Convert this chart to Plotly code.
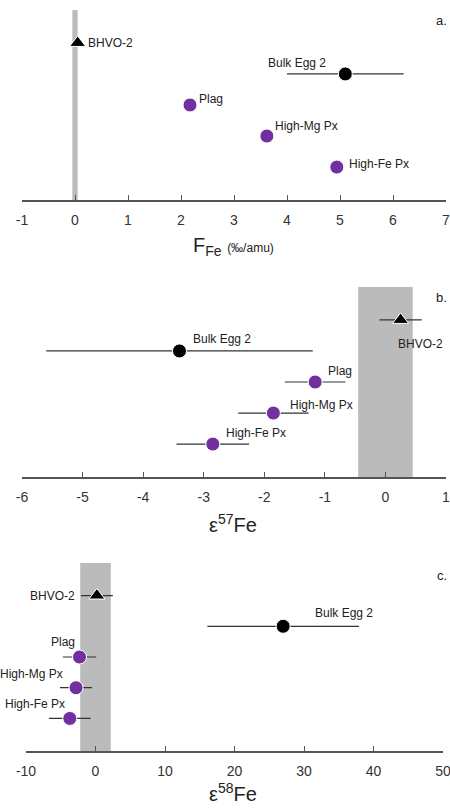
import plotly.graph_objects as go

# ---- data ----
samples = ["BHVO-2", "Bulk Egg 2", "Plag", "High-Mg Px", "High-Fe Px"]
F_Fe = [0.05, 5.1, 2.17, 3.62, 4.94]
F_Fe_err = [0, 1.1, 0, 0, 0]
eps57 = [0.25, -3.4, -1.16, -1.85, -2.85]
eps57_err = [0.35, 2.2, 0.5, 0.58, 0.6]
eps58 = [0.2, 27.0, -2.3, -2.8, -3.7]
eps58_err = [2.3, 10.9, 2.4, 2.3, 3.0]
band_half = [0.05, 0.45, 2.2]   # BHVO-2 reproducibility bands (F, e57, e58)
x_ranges = [[-1, 7], [-6, 1], [-10, 50]]
x_ticks = [list(range(-1, 8)), list(range(-6, 2)), list(range(-10, 51, 10))]
panel_letters = ["a.", "b.", "c."]
x_titles = ["F<sub>Fe</sub> <span style='font-size:12px'>(‰/amu)</span>",
            "ε<sup>57</sup>Fe", "ε<sup>58</sup>Fe"]

# ---- styles ----
PURPLE = "#7030A0"
colors = ["black", "black", PURPLE, PURPLE, PURPLE]
symbols = ["triangle-up", "circle", "circle", "circle", "circle"]
FONT = "Liberation Sans, Arial, sans-serif"
AX = "#555555"

# label placement per panel: (xanchor, xshift, yshift)
label_pos = [
    [("left", 8, 0), ("right", -17, 11), ("left", 7, 6), ("left", 6, 10), ("left", 10, 3)],
    [("center", 20, -24), ("left", 12, 12), ("left", 11, 11), ("left", 15, 8), ("left", 11, 11)],
    [("right", -20, 0), ("left", 30, 13), ("right", -3, 15), ("right", -11, 14), ("right", -3, 14)],
]

W, H = 450, 810
x_domains = [[22 / W, 446 / W], [22 / W, 446 / W], [26 / W, 443 / W]]
px_tops = [10, 287, 563]
px_bots = [200, 477, 751]
y_domains = [[1 - b / H, 1 - t / H] for t, b in zip(px_tops, px_bots)]
title_px = [247, 523, 792]
letter_px = [21, 297, 575]

fig = go.Figure()
n = len(samples)
rows = [n - i for i in range(n)]
panels = [(F_Fe, F_Fe_err), (eps57, eps57_err), (eps58, eps58_err)]
shapes = []
annotations = []

for p, (vals, errs) in enumerate(panels):
    xa = "x" if p == 0 else f"x{p+1}"
    ya = "y" if p == 0 else f"y{p+1}"
    # gray band
    shapes.append(dict(type="rect", xref=xa, yref=f"{ya} domain",
                       x0=-band_half[p], x1=band_half[p], y0=0, y1=1,
                       fillcolor="#BBBBBB", line=dict(width=0), layer="below"))
    for i in range(n):
        tr = dict(x=[vals[i]], y=[rows[i]], mode="markers", xaxis=xa, yaxis=ya,
                  showlegend=False, hoverinfo="skip",
                  marker=dict(color=colors[i], symbol=symbols[i], size=14,
                              line=dict(color="white", width=1)))
        if errs[i] > 0:
            tr["error_x"] = dict(type="data", array=[errs[i]], color="#333333",
                                 thickness=1.2, width=0)
        fig.add_trace(go.Scatter(**tr))
        anc, xs, ys = label_pos[p][i]
        annotations.append(dict(x=vals[i], y=rows[i], xref=xa, yref=ya, text=samples[i],
                                showarrow=False, xanchor=anc, yanchor="middle",
                                xshift=xs, yshift=ys,
                                font=dict(family=FONT, size=12, color="#222222")))
    # axis title
    xc = 233 / W
    annotations.append(dict(x=xc, y=1 - title_px[p] / H, xref="paper", yref="paper",
                            text=x_titles[p], showarrow=False, xanchor="center",
                            yanchor="middle",
                            font=dict(family=FONT, size=20, color="#222222")))
    annotations.append(dict(x=449 / W, y=1 - letter_px[p] / H, xref="paper", yref="paper",
                            text=panel_letters[p], showarrow=False, xanchor="right",
                            yanchor="middle",
                            font=dict(family=FONT, size=13, color="#222222")))

    axkey = "xaxis" if p == 0 else f"xaxis{p+1}"
    aykey = "yaxis" if p == 0 else f"yaxis{p+1}"
    fig.update_layout(**{
        axkey: dict(domain=x_domains[p], range=x_ranges[p], anchor=ya,
                    automargin=False, ticklabeloverflow="allow",
                    tickmode="array", tickvals=x_ticks[p],
                    ticktext=[str(v) for v in x_ticks[p]],
                    showgrid=False, zeroline=False, showline=True,
                    linecolor=AX, linewidth=1.5, ticks="inside", ticklen=5,
                    tickcolor=AX, tickwidth=1.2, ticklabelstandoff=6,
                    tickfont=dict(family=FONT, size=14, color="#333333")),
        aykey: dict(domain=y_domains[p], range=[-0.06, 6.06], anchor=xa,
                    automargin=False,
                    visible=False, showgrid=False, zeroline=False),
    })

fig.update_layout(width=W, height=H, margin=dict(l=0, r=0, t=0, b=0, autoexpand=False),
                  plot_bgcolor="white", paper_bgcolor="white",
                  shapes=shapes, annotations=annotations)
fig.write_html("out.html")
